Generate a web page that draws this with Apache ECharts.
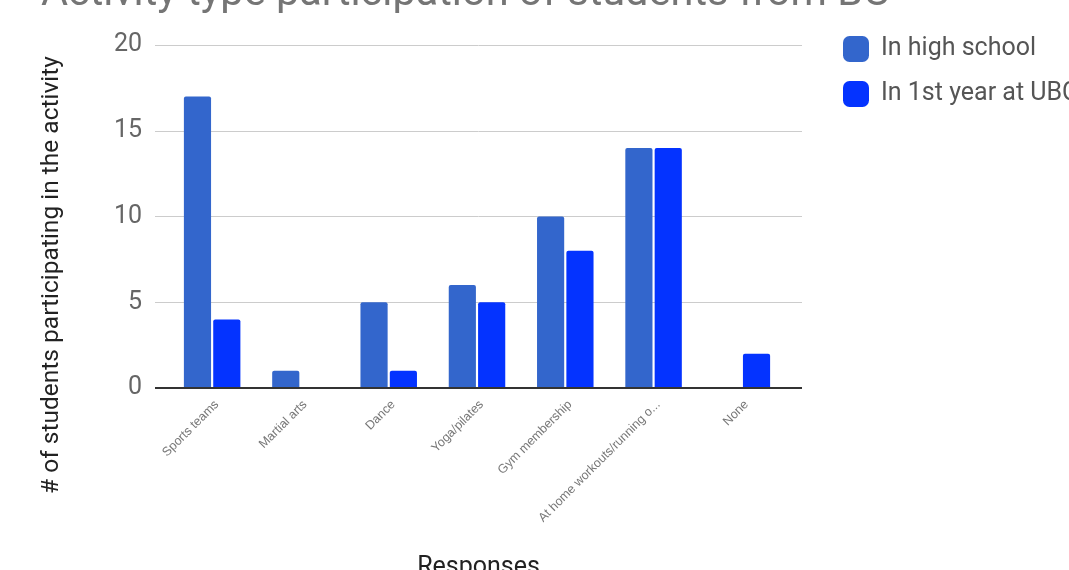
<!DOCTYPE html>
<html>
<head>
<meta charset="utf-8">
<script src="https://cdn.jsdelivr.net/npm/echarts@6/dist/echarts.min.js"></script>
<style>
  html, body { margin: 0; padding: 0; background: #fff; }
  #chart { width: 1069px; height: 570px; }
</style>
</head>
<body>
<div id="chart"></div>
<script>
// Activity categories and participation counts
const categories = ['Sports teams', 'Martial arts', 'Dance', 'Yoga/pilates', 'Gym membership', 'At home workouts/running o...', 'None'];
const highSchool = [17, 1, 5, 6, 10, 14, 0];
const firstYearUBC = [4, 0, 1, 5, 8, 14, 2];
const yTicks = [0, 5, 10, 15, 20];

const FONT = 'Roboto, "Noto Sans", sans-serif';
const chart = echarts.init(document.getElementById('chart'));

chart.setOption({
  animation: false,
  textStyle: { fontFamily: FONT },
  title: {
    text: 'Activity type participation of students from BC',
    left: 36,
    top: -31,
    textStyle: { fontSize: 41.5, fontWeight: 'normal', color: '#757575', fontFamily: FONT }
  },
  legend: {
    orient: 'vertical',
    left: 838,
    top: 31,
    itemWidth: 26,
    itemHeight: 26,
    itemGap: 19,
    icon: 'roundRect',
    textStyle: { fontSize: 25, color: '#555', fontFamily: FONT, padding: [0, 0, 0, 7] },
    data: ['In high school', 'In 1st year at UBC']
  },
  graphic: [{
    type: 'text',
    rotation: Math.PI / 2,
    x: 52, y: 275,
    style: {
      text: '# of students participating in the activity',
      fontSize: 24.5,
      fill: '#222',
      fontFamily: FONT,
      align: 'center',
      verticalAlign: 'middle'
    }
  }],
  grid: [
    // bars
    { left: 168, right: 283, top: 45, bottom: 182, outerBoundsMode: 'none', containLabel: false },
    // axis frame, gridlines and labels
    { left: 155, right: 267, top: 45, bottom: 182, outerBoundsMode: 'none', containLabel: false }
  ],
  xAxis: [
    {
      gridIndex: 0,
      type: 'category',
      data: categories,
      axisLine: { show: false },
      axisTick: { show: false },
      axisLabel: {
        rotate: 45,
        fontSize: 12.5,
        fontFamily: 'Arial, "Liberation Sans", sans-serif',
        color: '#777',
        margin: 10,
        verticalAlign: 'top',
        interval: 0
      }
    },
    {
      gridIndex: 1,
      type: 'value',
      min: 0, max: 1,
      axisLine: { show: false },
      axisTick: { show: false },
      axisLabel: { show: false },
      splitLine: { show: false },
      name: 'Responses',
      nameLocation: 'middle',
      nameGap: 167,
      nameTextStyle: { fontSize: 25, color: '#222', fontFamily: FONT }
    }
  ],
  yAxis: [
    {
      gridIndex: 0,
      type: 'value',
      min: 0, max: 20, interval: 5,
      axisLine: { show: false },
      axisTick: { show: false },
      axisLabel: { show: false },
      splitLine: { show: false }
    },
    {
      gridIndex: 1,
      type: 'value',
      min: yTicks[0], max: yTicks[yTicks.length - 1], interval: 5,
      axisLine: { show: false },
      axisTick: { show: false },
      axisLabel: { fontSize: 25, color: '#666', margin: 13, padding: [3, 0, 0, 0] },
      splitLine: { lineStyle: { color: '#cccccc', width: 1 } }
    }
  ],
  series: [
    {
      name: 'In high school',
      type: 'bar',
      xAxisIndex: 0, yAxisIndex: 0,
      data: highSchool,
      barGap: '8%',
      barCategoryGap: '36%',
      itemStyle: { color: '#3366cc', borderRadius: [2, 2, 0, 0] }
    },
    {
      name: 'In 1st year at UBC',
      type: 'bar',
      xAxisIndex: 0, yAxisIndex: 0,
      data: firstYearUBC,
      barGap: '8%',
      barCategoryGap: '36%',
      itemStyle: { color: '#0433ff', borderRadius: [2, 2, 0, 0] }
    },
    {
      // baseline along the zero value
      type: 'line',
      xAxisIndex: 1, yAxisIndex: 1,
      data: [[0, 0], [1, 0]],
      symbol: 'none',
      silent: true,
      lineStyle: { color: '#333', width: 2 },
      z: 5
    }
  ]
});
</script>
</body>
</html>
